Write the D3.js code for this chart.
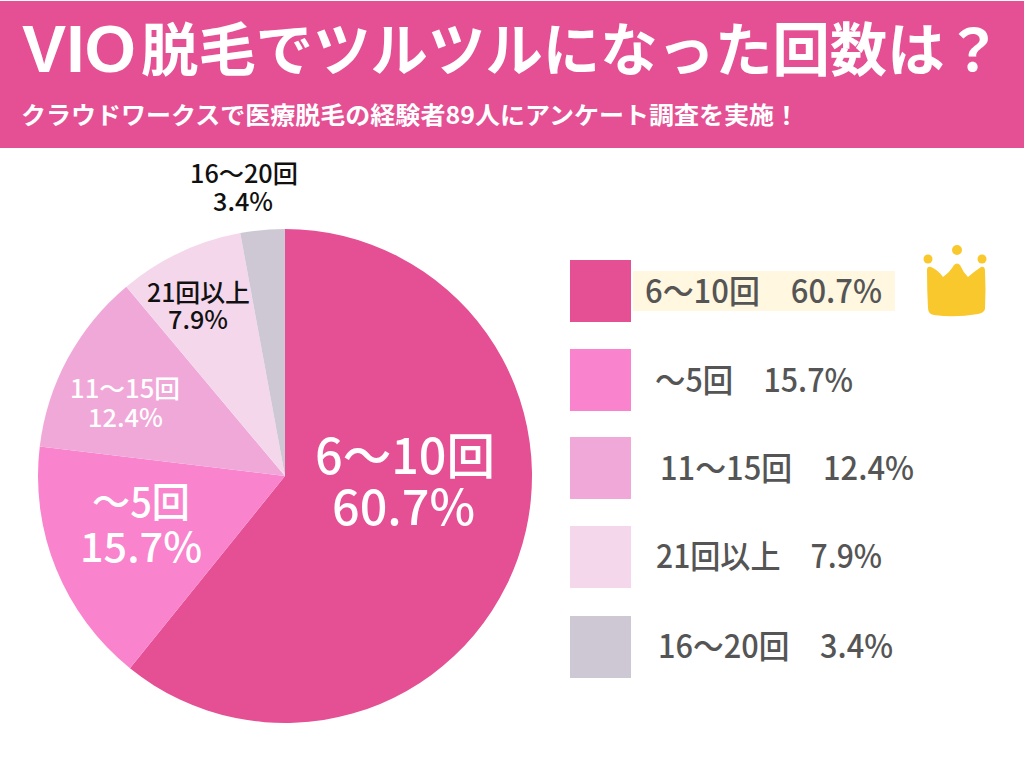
<!DOCTYPE html>
<html><head><meta charset="utf-8">
<script src="https://cdn.jsdelivr.net/npm/d3@7"></script>
<style>html,body{margin:0;padding:0;background:#fff}svg{display:block}text{font-family:"Noto Sans CJK JP","Noto Sans",sans-serif}</style>
</head><body><div id="c"></div>
<script>
const categories=["6〜10回","〜5回","11〜15回","21回以上","16〜20回"];
const percentLabels=["60.7%","15.7%","12.4%","7.9%","3.4%"];
// slice shares as actually drawn in the picture (they differ slightly from the printed percentages)
const sliceShares=[60.8,16.1,12.0,8.2,2.9];
const colors=["#e54f94","#f983cc","#f0a8d8","#f5d7ec","#cdc8d4"];
const labelColors=["#fff","#fff","#fff","#111","#111"];
const labelSizes=[49,41,25,25,25];
const labelWeights=[500,500,500,500,500];
const labelLine1=[[315,180,474],[92,98,517],[70,110,398],[147,103,302],[190,108,183]];
const labelLine2=[[332,143,525],[80,122,562],[88,75,427],[168,60,329],[213,60,211]];
const legendX=[645,655,660,656,658];
const legendW=[237,198,254,226,235];
const legendBase=[303,392,480,568,658];
const legendTop=[260,349,437,526,616];
const titleLatin="VIO";
const titleRest="脱毛でツルツルになった回数は？";
const subtitle="クラウドワークスで医療脱毛の経験者89人にアンケート調査を実施！";

const svg=d3.select("#c").append("svg").attr("width",1024).attr("height",768);
svg.append("rect").attr("x",0).attr("y",1).attr("width",1024).attr("height",147).attr("fill","#e54f94");
svg.append("text").attr("x",22).attr("y",72).attr("font-size",67).attr("font-weight",700).attr("fill","#fff")
  .style("font-family","'Liberation Sans',sans-serif")
  .attr("textLength",114).attr("lengthAdjust","spacingAndGlyphs").text(titleLatin);
svg.append("text").attr("x",141).attr("y",71).attr("font-size",58).attr("font-weight",700).attr("fill","#fff")
  .attr("textLength",861).attr("lengthAdjust","spacingAndGlyphs").text(titleRest);
svg.append("text").attr("x",21).attr("y",124).attr("font-size",24).attr("font-weight",700).attr("fill","#fff")
  .attr("textLength",778).attr("lengthAdjust","spacingAndGlyphs").text(subtitle);

const pie=d3.pie().sort(null).value(d=>d)(sliceShares);
const arc=d3.arc().innerRadius(0).outerRadius(247);
svg.append("g").attr("transform","translate(285,476)").selectAll("path").data(pie).join("path")
  .attr("d",arc).attr("fill",(d,i)=>colors[i]);

function fitted(str,pos,size,fill,weight){
  return svg.append("text").attr("x",pos[0]).attr("y",pos[2]).attr("font-size",size).attr("font-weight",weight)
    .attr("fill",fill).attr("textLength",pos[1]).attr("lengthAdjust","spacingAndGlyphs").text(str);
}
categories.forEach((c,i)=>{
  fitted(c,labelLine1[i],labelSizes[i],labelColors[i],labelWeights[i]);
  fitted(percentLabels[i],labelLine2[i],labelSizes[i],labelColors[i],labelWeights[i]);
});

svg.append("rect").attr("x",633).attr("y",271).attr("width",262).attr("height",40).attr("fill","#fff7e0");
categories.forEach((c,i)=>{
  svg.append("rect").attr("x",570).attr("y",legendTop[i]).attr("width",61).attr("height",62).attr("fill",colors[i]);
  fitted(c+"\u3000"+percentLabels[i],[legendX[i],legendW[i],legendBase[i]],32,"#555",500);
});

const crown=svg.append("g").attr("fill","#f9c82c");
crown.append("path").attr("d","M927 270 Q927 266 931 267 Q938 270 943 277 Q950 272 954 265 Q957 262 960 265 Q963 272 968 277 Q975 271 981 267 Q985 266 985 271 Q986 290 985 309 Q984 313 978 314 Q955 318 934 315 Q928 314 928 308 Q927 290 927 270Z");
[[928,259,4.5],[957,250,5],[982,259,4.5]].forEach(d=>crown.append("circle").attr("cx",d[0]).attr("cy",d[1]).attr("r",d[2]));
</script></body></html>
